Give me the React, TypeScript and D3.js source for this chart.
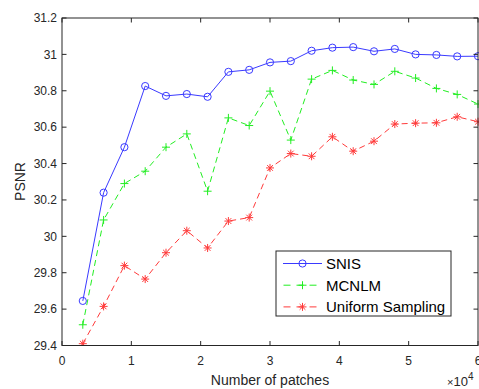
import React from "react";
import * as d3 from "d3";

const patches = [3000, 6000, 9000, 12000, 15000, 18000, 21000, 24000, 27000, 30000, 33000, 36000, 39000, 42000, 45000, 48000, 51000, 54000, 57000, 60000];
const snis = [29.645, 30.24, 30.49, 30.826, 30.772, 30.782, 30.767, 30.904, 30.915, 30.956, 30.963, 31.02, 31.037, 31.04, 31.017, 31.03, 31.0, 30.997, 30.989, 30.99];
const mcnlm = [29.514, 30.09, 30.29, 30.358, 30.49, 30.563, 30.248, 30.651, 30.609, 30.798, 30.529, 30.864, 30.912, 30.859, 30.835, 30.907, 30.87, 30.813, 30.78, 30.727];
const uniform = [29.41, 29.615, 29.839, 29.765, 29.91, 30.031, 29.936, 30.084, 30.103, 30.376, 30.455, 30.44, 30.547, 30.468, 30.523, 30.617, 30.622, 30.624, 30.657, 30.63];
const xTicks = [0, 1, 2, 3, 4, 5, 6];
const yTicks = [29.4, 29.6, 29.8, 30, 30.2, 30.4, 30.6, 30.8, 31, 31.2];
const seriesNames = ["SNIS", "MCNLM", "Uniform Sampling"];

const W = 479, H = 389;
const L = 62, R = 478, T = 18, B = 345.5;
const AX = "#262626";
const FONT = "'Liberation Sans', Arial, sans-serif";

export default function App() {
  const x = d3.scaleLinear().domain([0, 6]).range([L, R]);
  const y = d3.scaleLinear().domain([29.4, 31.2]).range([B, T]);
  const line = d3.line<[number, number]>().x(d => x(d[0] / 10000)).y(d => y(d[1]));
  const series = [
    { name: seriesNames[0], vals: snis, color: "#3a3aff", dash: "none", marker: "o" },
    { name: seriesNames[1], vals: mcnlm, color: "#22ee22", dash: "6,4", marker: "+" },
    { name: seriesNames[2], vals: uniform, color: "#ff3a3a", dash: "6,4", marker: "*" },
  ];
  const marker = (m: string, cx: number, cy: number, color: string, key: any) => {
    if (m === "o") return <circle key={key} cx={cx} cy={cy} r={3.6} fill="none" stroke={color} strokeWidth={1} />;
    const s = 4;
    if (m === "+") return (
      <g key={key} stroke={color} strokeWidth={1}>
        <line x1={cx - s} x2={cx + s} y1={cy} y2={cy} />
        <line x1={cx} x2={cx} y1={cy - s} y2={cy + s} />
      </g>
    );
    const d = s * 0.72;
    return (
      <g key={key} stroke={color} strokeWidth={1}>
        <line x1={cx - s} x2={cx + s} y1={cy} y2={cy} />
        <line x1={cx} x2={cx} y1={cy - s} y2={cy + s} />
        <line x1={cx - d} x2={cx + d} y1={cy - d} y2={cy + d} />
        <line x1={cx - d} x2={cx + d} y1={cy + d} y2={cy - d} />
      </g>
    );
  };
  const lgX = 276, lgY = 251, lgW = 175, lgH = 65;
  return (
    <svg width={W} height={H} style={{ position: "absolute", left: 0, top: 0, background: "#fff" }} fontFamily={FONT}>
      <rect x={0} y={0} width={W} height={H} fill="#fff" />
      <defs>
        <clipPath id="pc"><rect x={L} y={T} width={R - L + 2} height={B - T} /></clipPath>
      </defs>
      <g clipPath="url(#pc)">
        {series.map((s, i) => (
          <g key={i}>
            <path d={line(patches.map((p, j) => [p, s.vals[j]]) as [number, number][]) || ""} fill="none" stroke={s.color} strokeWidth={1} strokeDasharray={s.dash} />
            {patches.map((p, j) => marker(s.marker, x(p / 10000), y(s.vals[j]), s.color, j))}
          </g>
        ))}
      </g>
      <rect x={L} y={T} width={R - L} height={B - T} fill="none" stroke={AX} strokeWidth={1} />
      {xTicks.map(t => (
        <g key={"x" + t}>
          <line x1={x(t)} x2={x(t)} y1={B} y2={B - 4.5} stroke={AX} />
          <line x1={x(t)} x2={x(t)} y1={T} y2={T + 4.5} stroke={AX} />
          <text x={x(t)} y={365} textAnchor="middle" fontSize={12} fill={AX}>{t}</text>
        </g>
      ))}
      {yTicks.map(t => (
        <g key={"y" + t}>
          <line x1={L} x2={L + 4.5} y1={y(t)} y2={y(t)} stroke={AX} />
          <line x1={R} x2={R - 4.5} y1={y(t)} y2={y(t)} stroke={AX} />
          <text x={57} y={y(t) + 4.2} textAnchor="end" fontSize={12} fill={AX}>{d3.format("~g")(t)}</text>
        </g>
      ))}
      <text x={270} y={385} textAnchor="middle" fontSize={14} fill={AX}>Number of patches</text>
      <text transform={`translate(25,181.5) rotate(-90)`} textAnchor="middle" fontSize={14} fill={AX}>PSNR</text>
      <text x={447} y={386} fontSize={13} fill={AX}>
        <tspan fontSize={11}>×</tspan>10<tspan dy={-6} fontSize={10}>4</tspan>
      </text>
      <rect x={lgX} y={lgY} width={lgW} height={lgH} fill="#fff" stroke={AX} strokeWidth={1} />
      {series.map((s, i) => {
        const cy = lgY + 12.5 + i * 21.7;
        return (
          <g key={"l" + i}>
            <line x1={283} x2={322} y1={cy} y2={cy} stroke={s.color} strokeWidth={1} strokeDasharray={s.dash === "none" ? "none" : "7,6"} strokeDashoffset={-0.5} />
            {marker(s.marker, 302.5, cy, s.color, "m")}
            <text x={326} y={cy + 5.4} fontSize={15} fill="#000">{s.name}</text>
          </g>
        );
      })}
    </svg>
  );
}
